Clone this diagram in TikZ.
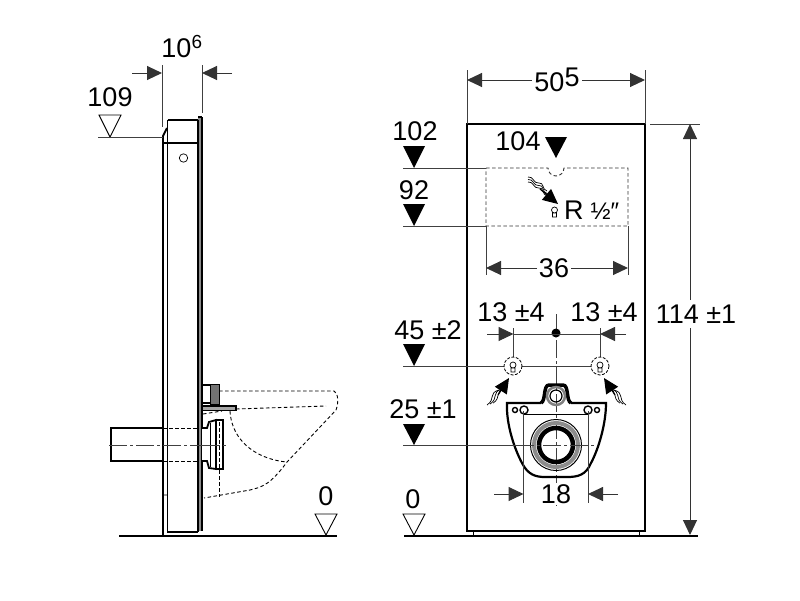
\documentclass[tikz,border=0pt]{standalone}
\usepackage{fontspec}
\setmainfont{Liberation Sans}
\usetikzlibrary{arrows.meta}
\tikzset{
  lbl/.style={inner sep=0pt,font=\fontsize{27}{27}\selectfont},
  dimline/.style={line width=1pt,draw=black!75},
  dimarrow/.style={line width=1pt,draw=black!80,-{Triangle[length=15pt,width=14pt]}},
  hidden/.style={line width=0.9pt,dash pattern=on 3.5pt off 2.5pt},
  axis/.style={line width=0.9pt,draw=black!75,dash pattern=on 18pt off 3pt on 3pt off 3pt},
  body/.style={line width=1.8pt},
  flowarrow/.style={line width=1.2pt,-{Triangle[length=15pt,width=14pt]}}
}
\begin{document}
\begin{tikzpicture}[x=1pt,y=-1pt]
  \useasboundingbox (0,0) rectangle (800,600);
  % side view
  \draw[line width=1.8pt] (119,536) -- (337,536);
  \draw[body] (163,143) -- (163,536) (167.5,120) -- (167.5,532) -- (198,532) (167.5,120) -- (199,120);
  \draw[body] (163,143) -- (199,143);
  \fill[black!45] (198,117) rectangle (202,531);
  \draw[line width=1.2pt] (198,120) -- (198,532);
  \draw[line width=1.6pt] (202,117) -- (202,531) (198,117) -- (202,117);
  \draw[body] (163,143) -- (163,136) -- (167,128);
  \draw[line width=0.7pt] (163,495) -- (167,495) (183.5,158) circle (4.2);
  \draw[body] (163,428) -- (111,428) -- (111,461) -- (163,461);
  \draw[hidden] (163,428) -- (198,428) (163,461) -- (198,461);
  \draw[axis] (109,445) -- (226,445);
  % fittings
  \draw[body] (202,385) -- (211,385) (202,403) -- (211,403);
  \draw[line width=1pt,fill=black!55] (210,384) rectangle (219,404);
  \draw[line width=1.2pt,fill=black!35] (202,406) rectangle (236,410.5);
  \draw[body,fill=white] (202,428) -- (207,428) -- (209,422) -- (216,420) -- (216,469) -- (209,468) -- (207,461) -- (202,461);
  \draw[body,fill=white] (216,420) rectangle (223,469);
  \draw[line width=0.5pt] (210,423) -- (210,467);
  \draw[axis] (202,445) -- (226,445);
  % toilet outline, hidden
  \draw[hidden] (219,391) -- (334,391) .. controls (338,393) and (339,402) .. (336,410)
    -- (287,462) .. controls (270,485) and (262,487) .. (250,490) -- (204,498);
  \draw[hidden] (236,409) -- (326,406) (203,414) -- (222,411);
  \draw[hidden] (230,411) .. controls (232,445) and (262,460) .. (287,462);
  \draw[hidden] (219,470) -- (219,497) (219,422) -- (219,468);
  % side view labels
  \draw[dimline] (162,65) -- (162,127) (202,65) -- (202,113);
  \draw[dimarrow] (132,73) -- (162,73);
  \draw[dimarrow] (232,73) -- (202,73);
  \node[lbl] (sidedepth) at (182,47) {10\textsuperscript{6}};
  \node[lbl] (sideheight) at (110,97) {109};
  \draw[line width=0.9pt] (99,115) -- (121,115) -- (110,137) -- cycle;
  \draw[dimline] (98,137) -- (163,137);
  \node[lbl] (sidezero) at (326,496) {0};
  \draw[line width=0.9pt] (315,514) -- (337,514) -- (326,535) -- cycle;
  % front view
  \draw[line width=1.8pt] (404,536) -- (698,536);
  \draw[line width=2pt] (467,124) rectangle (645,531);
  \draw[line width=0.6pt] (473,531) -- (473,536) (639,531) -- (639,536);
  \draw[dimline] (467,70) -- (467,124) (645,70) -- (645,124);
  \node[lbl] (width) at (557,80) {50\raisebox{5pt}{5}};
  \draw[dimarrow] (width) ++(-25,0) -- (467,80);
  \draw[dimarrow] (width) ++(25,0) -- (645,80);
  \draw[dimline] (650,124) -- (700,124);
  \node[lbl] (height) at (696,314) {114 ±1};
  \draw[dimarrow] (690,300) -- (690,124);
  \draw[dimarrow] (690,328) -- (690,535);
  % upper field
  \draw[hidden,draw=black!80] (486,168) -- (548,168) arc[start angle=180,end angle=0,radius=8] -- (628,168) -- (628,226) -- (486,226) -- cycle;
  \draw[dimline] (403,168) -- (486,168) (403,226) -- (486,226);
  \node[lbl] (mark102) at (415,131) {102};
  \node[lbl] (mark92) at (414,190) {92};
  \node[lbl] (mark104) at (518,141) {104};
  \fill (403,146) -- (425,146) -- (414,168) -- cycle;
  \fill (403,204) -- (425,204) -- (414,226) -- cycle;
  \fill (545,137) -- (567,137) -- (556,158) -- cycle;
  \foreach \d in {0,2.5,5}
    \draw[line width=0.7pt] (528,177+\d) .. controls (534,176+\d) and (533,184+\d) .. (539,183+\d) .. controls (544,182+\d) and (542,190+\d) .. (547,191+\d);
  \draw[flowarrow] (540,189) -- (558,204);
  \draw[line width=0.7pt] (554.5,210) circle (3) (552.5,213) rectangle (556.5,217);
  \node[lbl,anchor=west] (thread) at (564,210) {R\hspace{7pt}{\fontsize{24}{24}\selectfont ½″}};
  \draw[dimline] (486,226) -- (486,275) (628,226) -- (628,275);
  \node[lbl] (inner) at (554,268) {36};
  \draw[dimarrow] (inner) ++(-17,0) -- (486,268);
  \draw[dimarrow] (inner) ++(17,0) -- (628,268);
  % lower field
  \draw[axis] (556,340) -- (556,506);
  \draw[dimline] (556,314) -- (556,332);
  \fill (556,333) circle (4.5);
  \draw[dimline] (513.5,328) -- (513.5,357) (600,328) -- (600,357);
  \draw[dimline] (403,366) -- (504,366) (522,366) -- (591,366);
  \draw[dimarrow] (487,334) -- (513.5,334);
  \draw[dimarrow] (626,334) -- (600,334);
  \draw[dimline] (513.5,334) -- (600,334);
  \node[lbl] (spaceleft) at (511,312) {13 ±4};
  \node[lbl] (spaceright) at (604,312) {13 ±4};
  \node[lbl] (mark45) at (428,330) {45 ±2};
  \node[lbl] (mark25) at (423,409) {25 ±1};
  \fill (403,344) -- (425,344) -- (414,366) -- cycle;
  \fill (403,424) -- (425,424) -- (414,445) -- cycle;
  \foreach \x/\s in {513/1,600/-1}{
    \draw[line width=0.8pt,dash pattern=on 3pt off 1.5pt] (\x,366) circle (9);
    \draw[line width=0.7pt] (\x,365) circle (3) (\x-2,368) rectangle (\x+2,372);
    \foreach \d in {0,3,6}
      \draw[line width=0.7pt] (\x-\s*26+\s*\d,405-\d*0.3) .. controls (\x-\s*17+\s*\d,399-\d*0.3) and (\x-\s*25+\s*\d,393-\d*0.3) .. (\x-\s*14+\s*\d,390-\d*0.3);
    \draw[flowarrow] (\x-\s*15,395) -- (\x-\s*4,378);
  }
  % pan
  \draw[line width=2.2pt] (541,403) -- (507,403) .. controls (506,425) and (515,450) .. (522,463) .. controls (528,475) and (536,477) .. (545,477)
    -- (567,477) .. controls (578,477) and (586,475) .. (591,463) .. controls (598,450) and (606,425) .. (606,403) -- (571,403);
  \draw[line width=3.5pt] (541,403) .. controls (546,401) and (543,385) .. (549,385) -- (563,385) .. controls (569,385) and (566,401) .. (571,403);
  \draw[line width=2.5pt,draw=black!50] (556,396) circle (9);
  \draw[line width=1.2pt] (556,396) circle (6);
  \draw[line width=1pt] (524,414) -- (588,414);
  \foreach \x/\r in {515/2.5,524/4,588/4,597/2.5}
    \draw[line width=1.4pt] (\x,410) circle (\r);
  \draw[line width=1pt] (556,445) circle (25.5);
  \draw[line width=4pt,draw=black!45] (556,445) circle (22);
  \draw[line width=4.5pt] (556,445) circle (17);
  \draw[dimline] (403,445) -- (520,445);
  \draw[axis] (516,445) -- (596,445);
  % pan labels
  \draw[dimline] (523.5,411) -- (523.5,503) (588,411) -- (588,503);
  \draw[dimarrow] (494,494) -- (523.5,494);
  \draw[dimarrow] (618,494) -- (588,494);
  \node[lbl,fill=white,inner sep=1pt] (span) at (556,494) {18};
  \node[lbl] (frontzero) at (413,499) {0};
  \draw[line width=0.9pt] (403,514) -- (425,514) -- (414,535) -- cycle;
\end{tikzpicture}
\end{document}
